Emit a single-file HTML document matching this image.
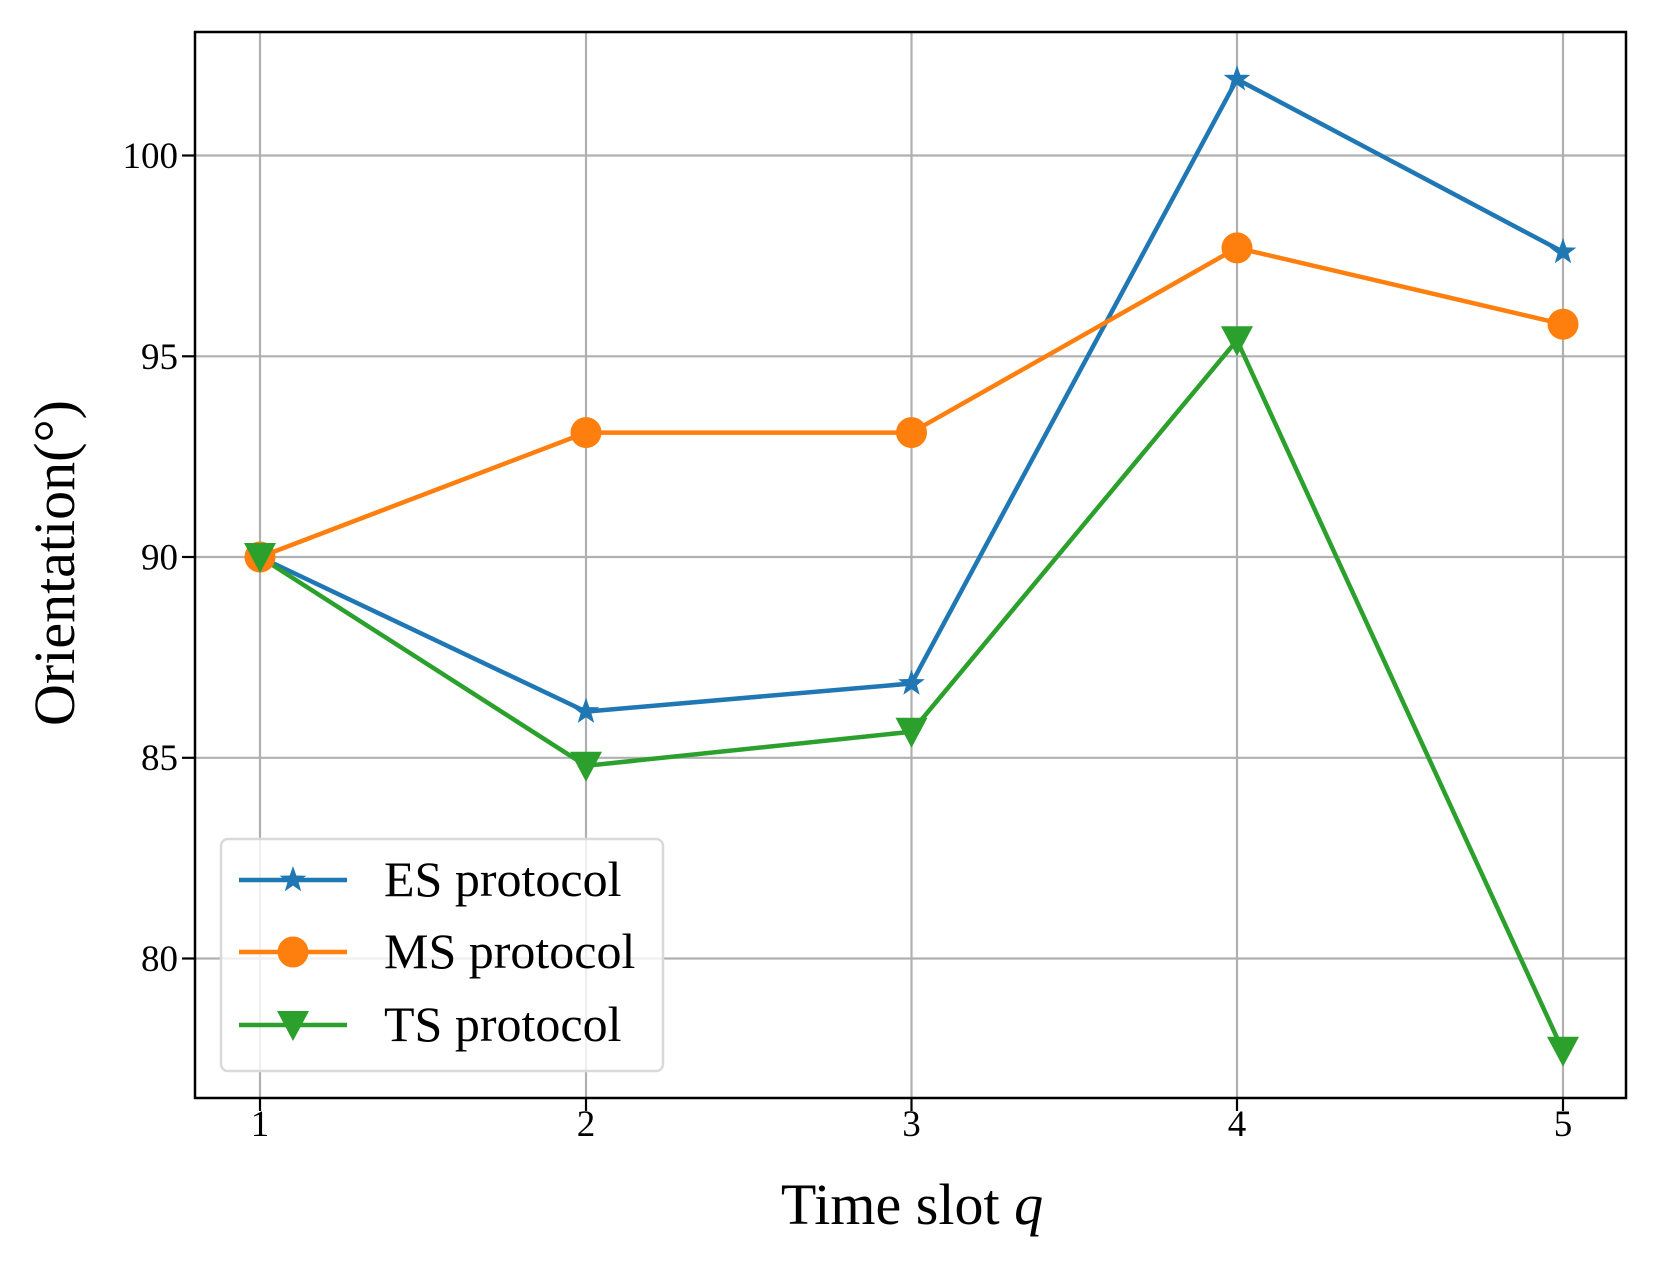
<!DOCTYPE html>
<html><head><style>body{margin:0;background:#fff}svg{display:block}text{font-family:"Liberation Serif",serif;fill:#000}</style></head><body>
<svg width="1659" height="1268" viewBox="0 0 1659 1268" xmlns="http://www.w3.org/2000/svg">
<defs>
<path id="star" d="M0,-14 L3.3,-4.5 13.3,-4.3 5.4,1.7 8.2,11.3 0,5.6 -8.2,11.3 -5.4,1.7 -13.3,-4.3 -3.3,-4.5Z"/>
<path id="tri" d="M-16,-14 L16,-14 0,16Z"/>
</defs>
<g stroke="#b0b0b0" stroke-width="2.2">
<line x1="260" y1="32" x2="260" y2="1098"/><line x1="586" y1="32" x2="586" y2="1098"/><line x1="911.5" y1="32" x2="911.5" y2="1098"/><line x1="1237" y1="32" x2="1237" y2="1098"/><line x1="1563" y1="32" x2="1563" y2="1098"/>
<line x1="195" y1="155.5" x2="1626" y2="155.5"/><line x1="195" y1="356.3" x2="1626" y2="356.3"/><line x1="195" y1="557" x2="1626" y2="557"/><line x1="195" y1="757.8" x2="1626" y2="757.8"/><line x1="195" y1="958.5" x2="1626" y2="958.5"/>
</g>
<g fill="none" stroke-width="4.5" stroke-linejoin="round">
<polyline stroke="#1f77b4" points="260,557 586,711.6 911.5,683.5 1237,79.2 1563,251.9"/>
<polyline stroke="#ff7f0e" points="260,557 586,432.6 911.5,432.6 1237,247.9 1563,324.2"/>
<polyline stroke="#2ca02c" points="260,557 586,765.8 911.5,731.7 1237,340.2 1563,1050.8"/>
</g>
<g fill="#1f77b4"><use href="#star" x="260" y="557"/><use href="#star" x="586" y="711.6"/><use href="#star" x="911.5" y="683.5"/><use href="#star" x="1237" y="79.2"/><use href="#star" x="1563" y="251.9"/></g>
<g fill="#ff7f0e"><circle cx="260" cy="557" r="15.5"/><circle cx="586" cy="432.6" r="15.5"/><circle cx="911.5" cy="432.6" r="15.5"/><circle cx="1237" cy="247.9" r="15.5"/><circle cx="1563" cy="324.2" r="15.5"/></g>
<g fill="#2ca02c"><use href="#tri" x="260" y="557"/><use href="#tri" x="586" y="765.8"/><use href="#tri" x="911.5" y="731.7"/><use href="#tri" x="1237" y="340.2"/><use href="#tri" x="1563" y="1050.8"/></g>
<rect x="195" y="32" width="1431" height="1066" fill="none" stroke="#000" stroke-width="2.5"/>
<g stroke="#000" stroke-width="2.2"><line x1="260" y1="1098" x2="260" y2="1111"/><line x1="586" y1="1098" x2="586" y2="1111"/><line x1="911.5" y1="1098" x2="911.5" y2="1111"/><line x1="1237" y1="1098" x2="1237" y2="1111"/><line x1="1563" y1="1098" x2="1563" y2="1111"/>
<line x1="182" y1="155.5" x2="195" y2="155.5"/><line x1="182" y1="356.3" x2="195" y2="356.3"/><line x1="182" y1="557" x2="195" y2="557"/><line x1="182" y1="757.8" x2="195" y2="757.8"/><line x1="182" y1="958.5" x2="195" y2="958.5"/></g>
<g font-size="37" text-anchor="middle"><text x="260" y="1136">1</text><text x="586" y="1136">2</text><text x="911.5" y="1136">3</text><text x="1237" y="1136">4</text><text x="1563" y="1136">5</text></g>
<g font-size="37" text-anchor="end"><text x="178" y="168">100</text><text x="178" y="369">95</text><text x="178" y="569.5">90</text><text x="178" y="770">85</text><text x="178" y="971">80</text></g>
<text x="912" y="1224" font-size="58" text-anchor="middle">Time slot <tspan font-style="italic">q</tspan></text>
<text transform="translate(74,563) rotate(-90)" font-size="58" text-anchor="middle">Orientation(°)</text>
<rect x="221" y="839" width="442" height="232" rx="7" fill="#fff" fill-opacity="0.8" stroke="#d9d9d9" stroke-width="2.5"/>
<line x1="239" y1="880" x2="347" y2="880" stroke="#1f77b4" stroke-width="4.5"/><use href="#star" x="293" y="880" fill="#1f77b4"/>
<line x1="239" y1="952" x2="347" y2="952" stroke="#ff7f0e" stroke-width="4.5"/><circle cx="293" cy="952" r="15.5" fill="#ff7f0e"/>
<line x1="239" y1="1025" x2="347" y2="1025" stroke="#2ca02c" stroke-width="4.5"/><use href="#tri" x="293" y="1025" fill="#2ca02c"/>
<g font-size="50"><text x="384" y="896">ES protocol</text><text x="384" y="968">MS protocol</text><text x="384" y="1041">TS protocol</text></g>
</svg>
</body></html>
